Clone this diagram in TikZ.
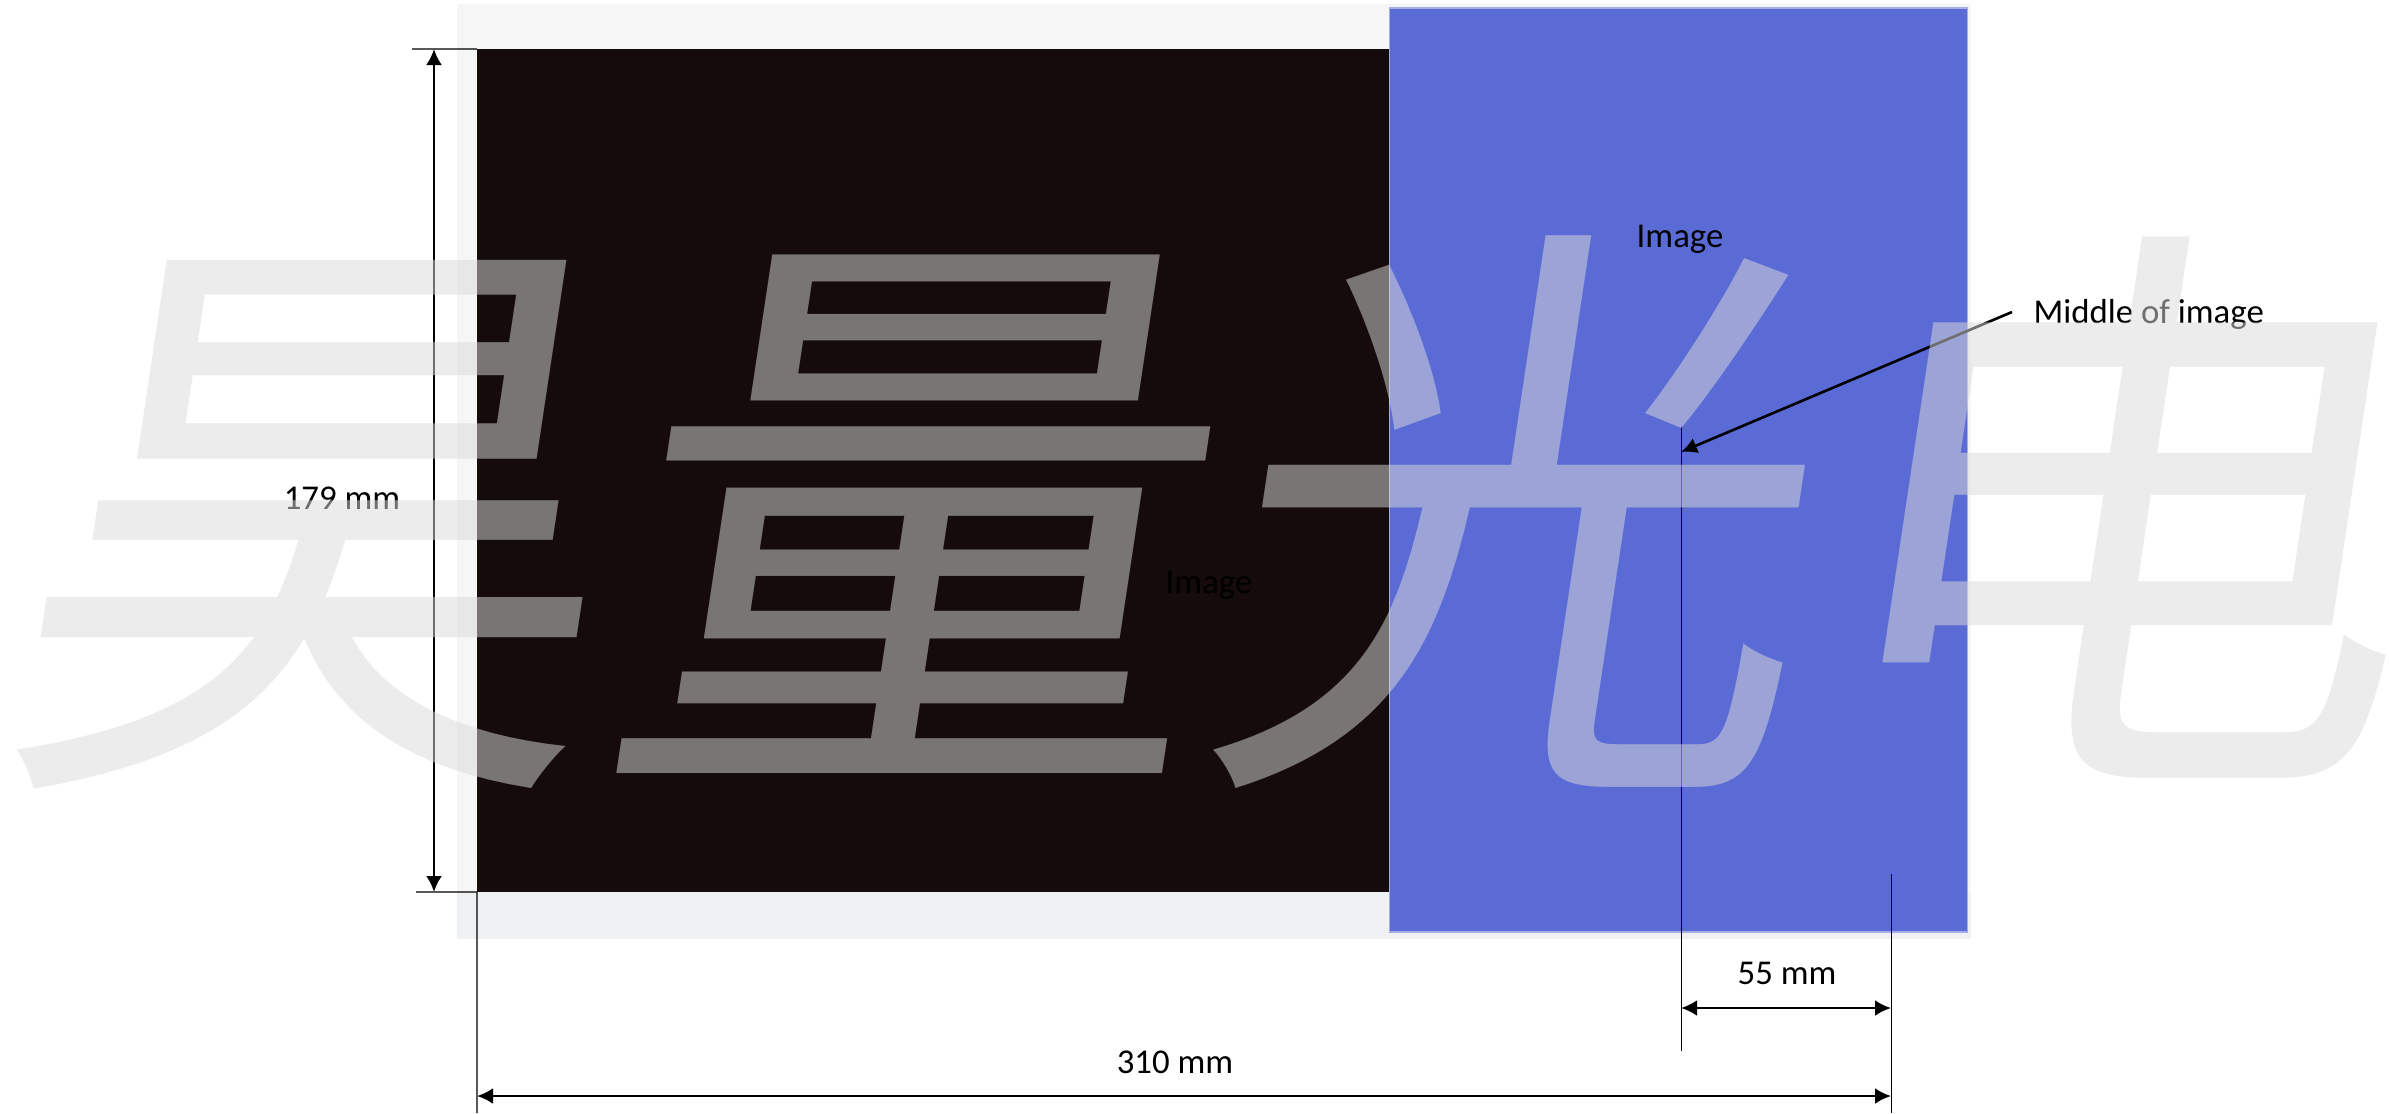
\documentclass[tikz,border=0pt]{standalone}
\usepackage{fontspec}
\setmainfont{Carlito}
\newfontfamily\cjkmark[FakeSlant=0.15]{Noto Sans CJK SC}
\usepackage{xcolor}
\definecolor{panelBlack}{HTML}{140B0A}
\definecolor{panelBlue}{HTML}{5B6BD5}
\definecolor{frameGrey}{HTML}{F6F6F7}
\definecolor{frameEdge}{HTML}{F0F1F3}
\definecolor{markGrey}{HTML}{DADADA}
\usepackage{tikz}
\usetikzlibrary{arrows.meta}
\tikzset{arrow/.style = {> = {Latex[length = 1.6mm, width = 1.6mm]}}}
\usetikzlibrary{positioning}

\begin{document}
\begin{tikzpicture}[x = 0.1mm, y = -0.1mm,
	panel/.style = {rectangle, inner sep = 0, outer sep = 0},
	dim/.style = {arrow, line width = 0.75pt},
	guide/.style = {line width = 0.3pt},
	label/.style = {font = \fontsize{9.9}{12}\selectfont, inner sep = 0}]
	\useasboundingbox (0, 0) rectangle (2389, 1113);

	%% Panels
	\node[panel, fill = frameGrey, minimum width = 151.4mm, minimum height = 93.5mm] (frame) at (1214, 471.5) {};
	\node[panel, fill = frameEdge, minimum width = 151.4mm, minimum height = 4.7mm] (edge) at (1214, 915.5) {};
	\node[panel, fill = panelBlack, minimum width = 91.2mm, minimum height = 84.3mm] (dark) at (933, 470.5) {};
	\node[panel, fill = panelBlue, draw = panelBlue!55!white, line width = 0.3pt, minimum width = 57.8mm, minimum height = 92.4mm] (blue) at (1678, 470) {};

	%% Labels
	\node[label] (darklabel) at (1209, 585) {Image};
	\node[label] (bluelabel) at (1680, 239) {Image};
	\node[label, anchor = west] (midlabel) at (2033, 314) {Middle of image};
	\node[label] (heightlabel) at (342, 498) {179 mm};
	\node[label] (offsetlabel) at (1787, 973) {55 mm};
	\node[label] (widthlabel) at (1175, 1062) {310 mm};

	%% Dimension points
	\coordinate (htop) at (434, 49);
	\coordinate (hbot) at (434, 892);
	\coordinate (ticktop) at (412, 49);
	\coordinate (tickbot) at (416, 892);
	\coordinate (leftend) at (477, 1113);
	\coordinate (rightend) at (1891, 1113);
	\coordinate (righttop) at (1891, 874);
	\coordinate (midtop) at (1681, 426);
	\coordinate (midbot) at (1681, 1051);
	\coordinate (midpt) at (1681, 452);
	\coordinate (leadstart) at (2012, 312);

	%% Guide lines
	\draw[guide] (ticktop) -- (dark.north west);
	\draw[guide] (tickbot) -- (dark.south west);
	\draw[guide] (dark.south west) -- (leftend);
	\draw[guide] (righttop) -- (rightend);
	\draw[guide] (midtop) -- (midbot);

	%% Arrows...
	% ... height
	\draw[dim, <->] (htop) -- (hbot);
	% ... width
	\draw[dim, <->] (leftend |- 0, 1096) -- (rightend |- 0, 1096);
	% ... offset
	\draw[dim, <->] (midtop |- 0, 1008) -- (righttop |- 0, 1008);
	% ... middle
	\draw[dim, ->] (leadstart) -- (midpt);

	%% Watermark
	\node[anchor = base west, inner sep = 0, text = markGrey, text opacity = 0.515, font = \cjkmark\fontsize{171}{171}\selectfont] (mark) at (-8, 740) {昊量光电};
\end{tikzpicture}
\end{document}
